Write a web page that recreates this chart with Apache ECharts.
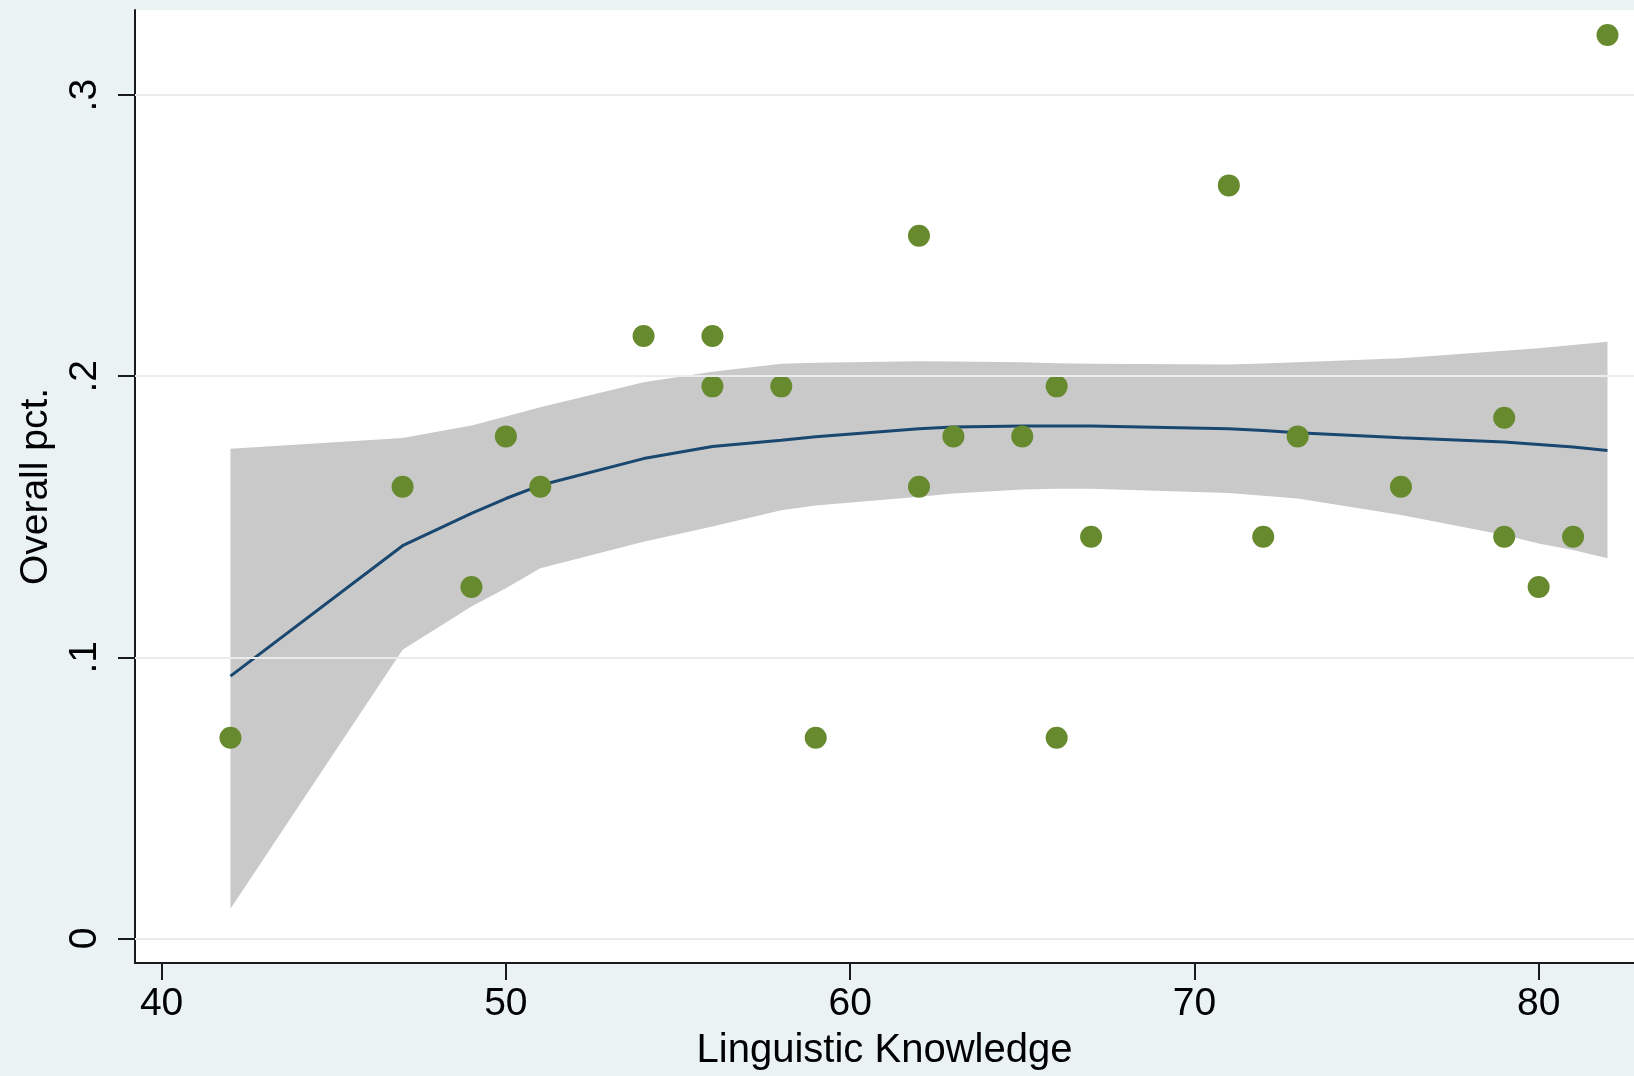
<!DOCTYPE html>
<html>
<head>
<meta charset="utf-8">
<script src="https://cdn.jsdelivr.net/npm/echarts@6/dist/echarts.min.js"></script>
<style>
  html, body { margin: 0; padding: 0; background: #EAF2F3; }
  #chart { width: 1634px; height: 1076px; }
</style>
</head>
<body>
<div id="chart"></div>
<script>
// Observations: Linguistic Knowledge score vs. overall percentage
const knowledge = [42, 47, 49, 50, 51, 54, 56, 56, 58, 59, 62, 62, 63, 65, 66, 66, 67, 71, 72, 73, 76, 79, 79, 80, 81, 82];
const overallPct = [0.0714, 0.1607, 0.125, 0.1786, 0.1607, 0.2143, 0.2143, 0.1964, 0.1964, 0.0714, 0.25, 0.1607, 0.1786, 0.1786, 0.1964, 0.0714, 0.1429, 0.2679, 0.1429, 0.1786, 0.1607, 0.1852, 0.1429, 0.125, 0.1429, 0.3214];

// Fitted curve with its confidence interval, evaluated at the distinct scores
const fitX = [42, 47, 49, 50, 51, 54, 56, 58, 59, 62, 63, 65, 66, 67, 71, 72, 73, 76, 79, 80, 81, 82];
const fitY = [0.0933, 0.1397, 0.1512, 0.1565, 0.1612, 0.1707, 0.1750, 0.1772, 0.1785, 0.1813, 0.1819, 0.1823, 0.1823, 0.1823, 0.1813, 0.1807, 0.1799, 0.1781, 0.1766, 0.1757, 0.1748, 0.1736];
const ciLow = [0.0105, 0.1027, 0.1181, 0.1246, 0.1317, 0.1411, 0.1465, 0.1523, 0.1540, 0.1571, 0.1583, 0.1597, 0.1600, 0.1600, 0.1585, 0.1575, 0.1565, 0.1506, 0.1435, 0.1405, 0.1382, 0.1352];
const ciHigh = [0.1742, 0.1780, 0.1825, 0.1857, 0.1890, 0.1979, 0.2016, 0.2044, 0.2048, 0.2053, 0.2052, 0.2050, 0.2046, 0.2044, 0.2042, 0.2045, 0.2050, 0.2064, 0.2091, 0.2100, 0.2111, 0.2123];

// Axis ticks
const xTicks = [40, 50, 60, 70, 80];
const yTicks = [0, 0.1, 0.2, 0.3];
const yTickLabels = ['0', '.1', '.2', '.3'];

const FONT = '"Liberation Sans", Arial, Helvetica, sans-serif';
const AXIS_COLOR = '#1a1a1a';

const chart = echarts.init(document.getElementById('chart'), null, { renderer: 'canvas' });

const zip = (a, b) => a.map((v, i) => [v, b[i]]);

// Confidence band drawn as one polygon: upper bound left→right, lower bound right→left
function renderBand(params, api) {
  if (params.dataIndex !== 0) return null;
  const upper = fitX.map((x, i) => api.coord([x, ciHigh[i]]));
  const lower = fitX.map((x, i) => api.coord([x, ciLow[i]])).reverse();
  return {
    type: 'polygon',
    shape: { points: upper.concat(lower) },
    style: { fill: '#c9c9c9', stroke: null }
  };
}

chart.setOption({
  animation: false,
  backgroundColor: '#EAF2F3',
  grid: {
    left: 135, right: 0, top: 10, bottom: 110,
    show: true, backgroundColor: '#ffffff', borderWidth: 0
  },
  xAxis: {
    type: 'value',
    min: 39.227, max: 82.77,
    name: 'Linguistic Knowledge',
    nameLocation: 'middle',
    nameGap: 68,
    nameTextStyle: { fontFamily: FONT, fontSize: 40, color: '#000' },
    axisLine: { show: true, onZero: false, lineStyle: { color: AXIS_COLOR, width: 2 } },
    axisTick: { show: true, length: 17, customValues: xTicks, lineStyle: { color: AXIS_COLOR, width: 2 } },
    axisLabel: { customValues: xTicks, fontFamily: FONT, fontSize: 39, color: '#000', margin: 22 },
    splitLine: { show: false }
  },
  yAxis: {
    type: 'value',
    min: -0.00876, max: 0.3303,
    name: 'Overall pct.',
    nameLocation: 'middle',
    nameRotate: 90,
    nameGap: 79,
    nameTextStyle: { fontFamily: FONT, fontSize: 39, color: '#000' },
    axisLine: { show: true, onZero: false, lineStyle: { color: AXIS_COLOR, width: 2 } },
    axisTick: { show: true, length: 17, customValues: yTicks, lineStyle: { color: AXIS_COLOR, width: 2 } },
    axisLabel: {
      customValues: yTicks,
      rotate: 90,
      fontFamily: FONT, fontSize: 39, color: '#000', margin: 30,
      formatter: (v) => {
        const i = yTicks.findIndex(t => Math.abs(t - v) < 1e-9);
        return i >= 0 ? yTickLabels[i] : '';
      }
    },
    splitLine: { show: false }
  },
  series: [
    {
      // horizontal grid lines at the y ticks
      type: 'line',
      data: [],
      symbol: 'none',
      silent: true,
      z: 1,
      markLine: {
        silent: true,
        symbol: ['none', 'none'],
        label: { show: false },
        lineStyle: { color: '#ececec', width: 2, type: 'solid' },
        data: yTicks.map(v => ({ yAxis: v }))
      }
    },
    {
      type: 'custom',
      renderItem: renderBand,
      data: fitX.map((x, i) => [x, ciLow[i], ciHigh[i]]),
      encode: { x: 0, y: [1, 2] },
      silent: true,
      z: 2
    },
    {
      type: 'line',
      data: zip(fitX, fitY),
      symbol: 'none',
      lineStyle: { color: '#1a476f', width: 3 },
      z: 3
    },
    {
      type: 'scatter',
      data: zip(knowledge, overallPct),
      symbol: 'circle',
      symbolSize: 22,
      itemStyle: { color: '#678a2f', opacity: 1 },
      z: 4
    }
  ]
});
</script>
</body>
</html>
